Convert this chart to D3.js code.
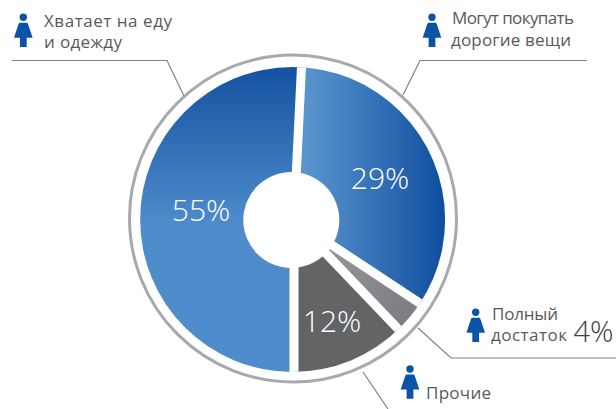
<!DOCTYPE html>
<html>
<head>
<meta charset="utf-8">
<script src="https://cdn.jsdelivr.net/npm/d3@7"></script>
<style>
  html, body { margin: 0; padding: 0; background: #fff; }
  svg { display: block; }
  text { font-family: "Open Sans", "Noto Sans", sans-serif; }
</style>
</head>
<body>
<div id="chart"></div>
<script>
// printed percentages
const shareLabels = ['55%', '29%', '4%', '12%'];
// drawn sweep of each slice in degrees (not proportional to the labels)
const sweepDegrees = [182.8, 120.7, 12.8, 43.7];
const sliceNames = ['eat', 'expensive', 'full', 'other'];
const captions = [
  ['Хватает на еду', 'и одежду'],
  ['Могут покупать', 'дорогие вещи'],
  ['Полный', 'достаток'],
  ['Прочие']
];

const width = 616, height = 409;
const cx = 294, cy = 220;         // slices and gaps fan out from here
const discX = 292.6, discY = 219.5, discR = 152.5;
const ringX = 293, ringY = 218.5, ringR = 163.5;
const holeX = 291.3, holeY = 220, holeR = 48;
const startDeg = 180;             // 55% slice starts straight down

const svg = d3.select('#chart').append('svg')
  .attr('width', width).attr('height', height)
  .attr('viewBox', `0 0 ${width} ${height}`);

// Gradients in page space so they run across the whole pie
const defs = svg.append('defs');
function gradient(id, x1, y1, x2, y2, stops) {
  const g = defs.append('linearGradient').attr('id', id)
    .attr('gradientUnits', 'userSpaceOnUse')
    .attr('x1', x1).attr('y1', y1).attr('x2', x2).attr('y2', y2);
  stops.forEach(([o, c]) => g.append('stop').attr('offset', o).attr('stop-color', c));
}
gradient('g-eat', 0, 70, 0, 225, [[0, '#1553a2'], [1, '#4f8ccb']]);
gradient('g-expensive', 305, 0, 445, 0, [[0, '#5a95cd'], [1, '#0f4e9f']]);
gradient('g-full', 330, 250, 415, 320, [[0, '#939598'], [1, '#7a7c80']]);
gradient('g-other', 0, 260, 0, 375, [[0, '#636466'], [1, '#636466']]);

const pie = d3.pie().sort(null)
  .startAngle(startDeg * Math.PI / 180)
  .endAngle((startDeg + d3.sum(sweepDegrees)) * Math.PI / 180);
const arc = d3.arc().innerRadius(0).outerRadius(200);
const slices = pie(sweepDegrees);

// Outer ring
svg.append('circle')
  .attr('cx', ringX).attr('cy', ringY).attr('r', ringR)
  .attr('fill', 'none').attr('stroke', '#a7a9ac').attr('stroke-width', 3);

defs.append('clipPath').attr('id', 'disc')
  .append('circle').attr('cx', discX).attr('cy', discY).attr('r', discR);

const disc = svg.append('g').attr('clip-path', 'url(#disc)');

slices.forEach((d, i) => {
  const clipId = `clip-${sliceNames[i]}`;
  defs.append('clipPath').attr('id', clipId)
    .append('path').attr('d', arc(d)).attr('transform', `translate(${cx},${cy})`);
  disc.append('rect')
    .attr('x', discX - discR).attr('y', discY - discR)
    .attr('width', discR * 2).attr('height', discR * 2)
    .attr('fill', `url(#g-${sliceNames[i]})`)
    .attr('clip-path', `url(#${clipId})`);
});

// White gaps with parallel edges
disc.selectAll('line.gap').data(slices)
  .join('line')
  .attr('class', 'gap')
  .attr('x1', cx).attr('y1', cy)
  .attr('x2', (d) => cx + Math.sin(d.startAngle) * 200)
  .attr('y2', (d) => cy - Math.cos(d.startAngle) * 200)
  .attr('stroke', '#fff').attr('stroke-width', 9);

svg.append('circle')
  .attr('cx', holeX).attr('cy', holeY).attr('r', holeR).attr('fill', '#fff');

// Percent labels inside the pie
const pctPos = [[201, 221], [380, 188.5], null, [332, 332]];
shareLabels.forEach((t, i) => {
  if (!pctPos[i]) return;
  svg.append('text')
    .attr('x', pctPos[i][0]).attr('y', pctPos[i][1])
    .attr('text-anchor', 'middle')
    .attr('fill', '#fff').attr('font-size', 30).attr('font-weight', 300)
    .text(t);
});

// Leader lines
const leaders = [
  [[12, 60.5], [167, 60.5], [184, 96]],
  [[587, 60.5], [420, 60.5], [403, 95]],
  [[418, 328], [451, 358], [616, 358]],
  [[363, 372], [388, 409]]
];
svg.selectAll('path.leader').data(leaders)
  .join('path')
  .attr('class', 'leader')
  .attr('d', d3.line())
  .attr('fill', 'none').attr('stroke', '#808285').attr('stroke-width', 1.2);

// Woman icon, origin at centre of head
function icon(x, y) {
  const g = svg.append('g').attr('transform', `translate(${x},${y})`).attr('fill', '#0b54a5');
  g.append('circle').attr('r', 3.7);
  g.append('path').attr('d', 'M-3.5,5.5 L3.5,5.5 Q4.5,5.5 5,7.5 L9.3,20.5 L3.4,20.5 L3.4,29.8 L-3.4,29.8 L-3.4,20.5 L-9.3,20.5 L-5,7.5 Q-4.5,5.5 -3.5,5.5 Z');
}
[[23.3, 17.3], [432, 17.3], [475.7, 312.3], [410, 369]].forEach(([x, y]) => icon(x, y));

// Captions, stretched to the widths measured on the picture
const capPos = [
  [[44, 27, 128], [44, 48, 78]],
  [[452, 24, 122], [451, 46, 120]],
  [[492, 320, 66], [491, 341, 76]],
  [[426, 399, 65]]
];
captions.forEach((lines, i) => {
  lines.forEach((t, j) => {
    const [x, y, w] = capPos[i][j];
    svg.append('text')
      .attr('x', x).attr('y', y)
      .attr('textLength', w).attr('lengthAdjust', 'spacing')
      .attr('fill', '#58595b').attr('font-size', 17)
      .text(t);
  });
});

// 4% sits outside, next to its caption
svg.append('text')
  .attr('x', 573.5).attr('y', 342)
  .attr('fill', '#414042').attr('font-size', 29).attr('font-weight', 300)
  .text(shareLabels[2]);
</script>
</body>
</html>
